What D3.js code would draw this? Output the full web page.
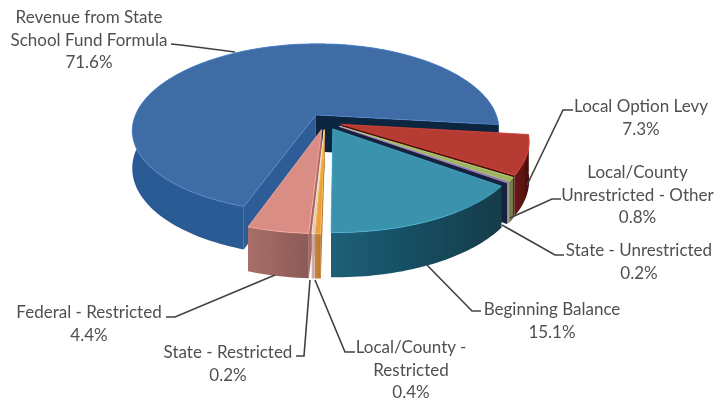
<!DOCTYPE html>
<html>
<head>
<meta charset="utf-8">
<script src="https://cdn.jsdelivr.net/npm/d3@7"></script>
<style>
  html, body { margin: 0; background: #fff; }
  svg { display: block; }
</style>
</head>
<body>
<svg width="724" height="402"></svg>
<script>
const categories = ["Revenue from State School Fund Formula", "Local Option Levy", "Local/County Unrestricted - Other", "State - Unrestricted", "Beginning Balance", "Local/County - Restricted", "State - Restricted", "Federal - Restricted"]
const shares = [71.6, 7.3, 0.8, 0.2, 15.1, 0.4, 0.2, 4.4]
const shareLabels = ["71.6%", "7.3%", "0.8%", "0.2%", "15.1%", "0.4%", "0.2%", "4.4%"]

// top face, cut wall, rim left and rim right colours per slice
const sliceColors = [
    { top: "#3f6ca6", cut: "#2f5c96", rimA: "#2c5a94", rimB: "#2a5c96" },
    { top: "#b63a33", cut: "#4a0f0d", rimA: "#6a1814", rimB: "#4a0f0d" },
    { top: "#9db463", cut: "#5f6b38", rimA: "#7d8a50", rimB: "#6a7640" },
    { top: "#8a70a8", cut: "#15233a", rimA: "#e8e4dc", rimB: "#d8d4cc" },
    { top: "#3a92ad", cut: "#123c4c", rimA: "#1c5f78", rimB: "#123c4a" },
    { top: "#eda040", cut: "#b9772e", rimA: "#c98436", rimB: "#b9772e" },
    { top: "#e3c4ba", cut: "#c4a096", rimA: "#d4b4aa", rimB: "#c4a49a" },
    { top: "#d98d85", cut: "#a8665f", rimA: "#a96e68", rimB: "#8c5a56" }
]

// label text lines, centre x and first line y
const labelLayout = [
    { lines: ["Revenue from State", "School Fund Formula", "71.6%"], x: 89, y: 17 },
    { lines: ["Local Option Levy", "7.3%"], x: 641, y: 106 },
    { lines: ["Local/County", "Unrestricted - Other", "0.8%"], x: 637.5, y: 172 },
    { lines: ["State - Unrestricted", "0.2%"], x: 639, y: 250 },
    { lines: ["Beginning Balance", "15.1%"], x: 552, y: 309 },
    { lines: ["Local/County -", "Restricted", "0.4%"], x: 411, y: 347 },
    { lines: ["State - Restricted", "0.2%"], x: 228, y: 352 },
    { lines: ["Federal - Restricted", "4.4%"], x: 89, y: 312 }
]

const leaderLayout = [
    [[171, 44], [181, 45], [235, 52]],
    [[573, 110], [563, 110], [527, 185]],
    [[510, 218], [552, 199], [561, 199]],
    [[502, 225], [555, 255], [564, 255]],
    [[427, 265], [472, 311], [481, 311]],
    [[315, 280], [345, 352], [355, 352]],
    [[310, 280], [304, 356], [296, 356]],
    [[275, 275], [175, 317], [166, 317]]
]

function drawPie() {
    const svg = d3.select("svg")
    const defs = svg.append("defs")
    defs.append("filter").attr("id", "soft")
        .append("feGaussianBlur").attr("stdDeviation", 0.45)

    const cx = 325, cy = 121.6
    const rx = 183, ry = 84.5
    const depth = 37
    const explode = 0.095
    const kx = 0.18, ky = 0.16

    const project = (X, Y, drop) => {
        const px = cx + rx * X / (1 - kx * Y)
        const py = cy + ry * Y / (1 - ky * Y)
        return [px, py + drop * depth / (1 - ky * Y)]
    }

    const pie = d3.pie().sort(null)
        .startAngle(198.9 * Math.PI / 180)
        .endAngle((198.9 + 360) * Math.PI / 180)
    const arcs = pie(shares)

    const line = d3.line()
    const chart = svg.append("g").attr("filter", "url(#soft)")
    const pieGroup = chart.append("g")

    // back slices first, then round to the front
    const order = [0, 1, 2, 3, 7, 6, 5, 4]
    order.forEach(i => {
        const a = arcs[i]
        const c = sliceColors[i]
        const mid = (a.startAngle + a.endAngle) / 2
        const ox = explode * Math.sin(mid), oy = -explode * Math.cos(mid)
        const edge = t => [ox + Math.sin(t), oy - Math.cos(t)]
        const steps = d3.range(0, 1.0001, 1 / Math.max(2, Math.ceil((a.endAngle - a.startAngle) * 40)))
            .map(u => a.startAngle + u * (a.endAngle - a.startAngle))
        const rimTop = steps.map(t => project(...edge(t), 0))
        const rimLow = steps.map(t => project(...edge(t), 1))
        const apexTop = project(ox, oy, 0)
        const apexLow = project(ox, oy, 1)

        const gradId = `rim_${i}`
        const xs = rimTop.map(p => p[0])
        const grad = defs.append("linearGradient").attr("id", gradId)
            .attr("gradientUnits", "userSpaceOnUse")
            .attr("x1", d3.min(xs)).attr("x2", d3.max(xs))
            .attr("y1", 0).attr("y2", 0)
        grad.append("stop").attr("offset", 0).attr("stop-color", c.rimA)
        grad.append("stop").attr("offset", 1).attr("stop-color", c.rimB)

        const drawRim = () => pieGroup.append("path")
            .attr("d", line(rimTop.concat(rimLow.slice().reverse())) + "Z")
            .attr("fill", `url(#${gradId})`)

        // the big slice wraps round the back, so its walls go over its rim
        if (i === 0) drawRim()

        // cut walls
        const first = rimTop[0], last = rimTop[rimTop.length - 1]
        const firstLow = rimLow[0], lastLow = rimLow[rimLow.length - 1]
        pieGroup.append("path")
            .attr("d", line([apexTop, last, lastLow, apexLow]) + "Z")
            .attr("fill", i === 0 ? "#10263f" : c.cut)
        pieGroup.append("path")
            .attr("d", line([apexTop, first, firstLow, apexLow]) + "Z")
            .attr("fill", c.cut)

        if (i !== 0) drawRim()

        // top face
        pieGroup.append("path")
            .attr("d", line([apexTop].concat(rimTop)) + "Z")
            .attr("fill", c.top)
            .attr("stroke", d3.color(c.top).brighter(0.7))
            .attr("stroke-width", 0.7)
    })

    chart.selectAll("path.leader")
        .data(leaderLayout)
        .enter()
        .append("path")
        .attr("class", "leader")
        .attr("d", d => line(d))
        .attr("fill", "none")
        .attr("stroke", "#404040")
        .attr("stroke-width", 1.6)

    const labels = chart.selectAll("g.label")
        .data(categories)
        .enter()
        .append("g")
        .attr("class", "label")
        .attr("aria-label", (d, i) => `${d} ${shareLabels[i]}`)
    labels.selectAll("text")
        .data((d, i) => labelLayout[i].lines.map((t, j) => ({ t, x: labelLayout[i].x, y: labelLayout[i].y + j * 22.7 })))
        .enter()
        .append("text")
        .attr("x", d => d.x)
        .attr("y", d => d.y)
        .attr("dy", "0.35em")
        .attr("text-anchor", "middle")
        .attr("font-family", "Lato, 'Open Sans', sans-serif")
        .attr("font-size", 17)
        .attr("fill", "#505050")
        .text(d => d.t)
}
drawPie()
</script>
</body>
</html>
